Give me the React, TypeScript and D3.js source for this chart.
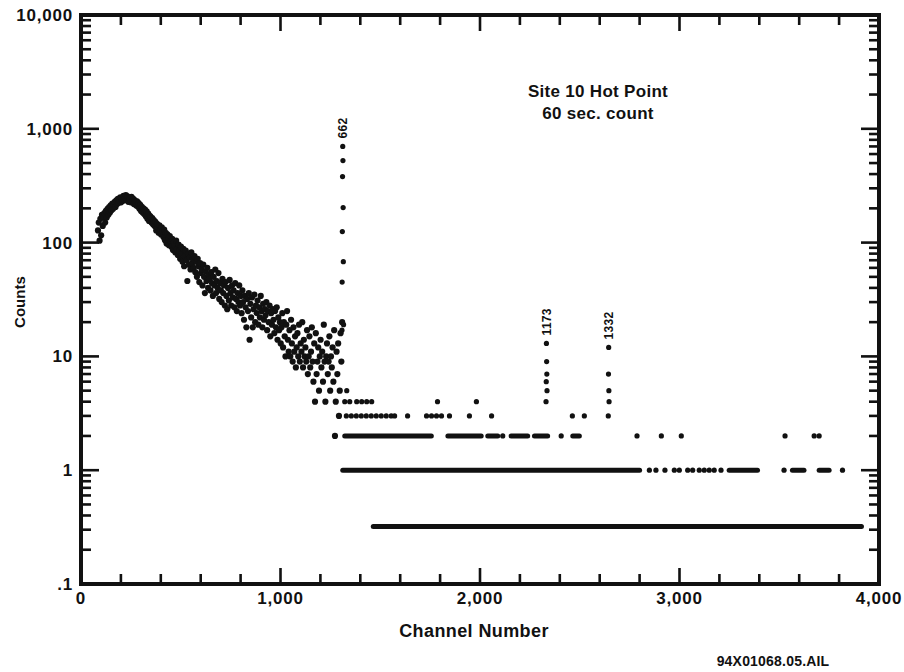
import React from "react";
import * as d3 from "d3";

// gamma spectrum, continuum part: every 4th channel from 85 on
const contStart = 85;
const contStep = 4;
const contCounts = [
  128, 150, 104, 162, 116, 175, 140, 168, 182, 150,
  190, 166, 198, 176, 205, 184, 212, 192, 220, 198,
  215, 228, 206, 235, 218, 242, 224, 232, 250, 226,
  245, 232, 258, 238, 250, 262, 236, 255, 228, 248,
  240, 226, 252, 232, 244, 218, 236, 225, 212, 230,
  208, 222, 198, 215, 190, 206, 184, 200, 178, 195,
  170, 188, 162, 180, 155, 172, 168, 150, 164, 145,
  158, 140, 152, 128, 146, 135, 122, 142, 130, 118,
  136, 125, 112, 130, 105, 122, 98, 118, 110, 95,
  114, 102, 92, 108, 86, 100, 95, 82, 104, 88,
  78, 96, 84, 72, 92, 80, 68, 88, 62, 76,
  85, 70, 46, 80, 64, 74, 58, 82, 66, 72,
  60, 76, 55, 68, 50, 72, 62, 45, 66, 54,
  58, 42, 64, 50, 36, 56, 46, 60, 40, 52,
  48, 38, 55, 44, 34, 50, 42, 58, 36, 46,
  40, 54, 32, 44, 38, 30, 48, 36, 42, 28,
  45, 34, 26, 40, 31, 47, 36, 28, 42, 33,
  38, 27, 44, 32, 25, 36, 30, 42, 28, 34,
  24, 38, 30, 21, 34, 27, 18, 32, 25, 36,
  14, 29, 22, 33, 18, 26, 35, 20, 28, 24,
  31, 19, 27, 22, 34, 25, 18, 29, 21, 26,
  23, 30, 17, 25, 20, 28, 15, 24, 19, 26,
  21, 16, 25, 18, 27, 14, 22, 17, 20, 13,
  18, 24, 12, 20, 15, 10, 19, 25, 14, 11,
  17, 10, 21, 13, 9, 18, 11, 15, 8, 12,
  16, 10, 19, 9, 13, 11, 20, 8, 14, 10,
  12, 9, 17, 7, 10, 15, 8, 11, 18, 9,
  6, 13, 4, 16, 7, 9, 12, 5, 10, 14,
  8, 11, 6, 19, 9, 4, 10, 13, 7, 9,
  15, 5, 10, 8, 12, 6, 17, 2, 4, 11,
  7, 13, 3, 5, 16, 9, 20,
];

// photopeaks
const peak662Channels = [1308, 1309, 1310, 1311, 1312, 1313, 1314, 1315, 1316];
const peak662Counts = [17, 45, 125, 380, 700, 526, 203, 68, 19];
const peak1173Channels = [2331, 2332, 2333, 2334, 2335, 2336];
const peak1173Counts = [4, 6, 13, 9, 7, 5];
const peak1332Channels = [2643, 2644, 2645, 2646, 2647];
const peak1332Counts = [3, 7, 12, 5, 4];

const peakNames = ["662", "1173", "1332"];
const peakChannels = [1312, 2333, 2645];
const peakTops = [700, 13, 12];

// single points above the 662 peak
const tailChannels = [
  1332,
  1322, 1347, 1382, 1407, 1432, 1457, 1787, 1982,
  1330, 1355, 1380, 1405, 1430, 1455, 1480, 1505, 1530, 1555, 1572, 1637, 1732,
  1757, 1782, 1807, 1847, 1947, 2058, 2463, 2523,
  2114, 2407, 2787, 2909, 3009, 3529, 3675, 3700,
  2849, 2882, 2927, 2974, 2999, 3041, 3066, 3099, 3124, 3149, 3174, 3208, 3524, 3817,
];
const tailCounts = [
  5,
  4, 4, 4, 4, 4, 4, 4, 4,
  3, 3, 3, 3, 3, 3, 3, 3, 3, 3, 3, 3, 3,
  3, 3, 3, 3, 3, 3, 3, 3,
  2, 2, 2, 2, 2, 2, 2, 2,
  1, 1, 1, 1, 1, 1, 1, 1, 1, 1, 1, 1, 1, 1,
];

// channels with the same count side by side merge into runs
const zeroLevel = 0.32; // empty channels are drawn at this floor
const runLevels = [2, 2, 2, 2, 2, 2, 1, 1, 1, 1, zeroLevel];
const runStarts = [1322, 1839, 2039, 2156, 2273, 2465, 1312, 3249, 3566, 3700, 1465];
const runEnds = [1756, 2006, 2089, 2239, 2339, 2498, 2800, 3391, 3624, 3750, 3912];

const yTickValues = [10000, 1000, 100, 10, 1, 0.1];
const yTickLabels = ["10,000", "1,000", "100", "10", "1", ".1"];
const xTickValues = [0, 1000, 2000, 3000, 4000];
const xTickLabels = ["0", "1,000", "2,000", "3,000", "4,000"];

const W = 904;
const H = 672;
const left = 81, right = 879, top = 15, bottom = 584;
const ink = "#111";
const font = "'Liberation Sans', Arial, sans-serif";

export default function App() {
  const x = d3.scaleLinear().domain([0, 4000]).range([left, right]);
  const y = d3.scaleLog().domain([0.1, 10000]).range([bottom, top]);

  const yTicks = y.ticks();
  const xTicks = x.ticks(20);
  const isDecade = (v: number) => Math.abs(Math.log10(v) - Math.round(Math.log10(v))) < 1e-6;

  const dot = (ch: number, c: number, k: string, r = 2.6) => (
    <circle key={k} cx={x(ch)} cy={y(c)} r={r} fill={ink} />
  );

  return (
    <svg width={W} height={H} style={{ position: "absolute", left: 0, top: 0, background: "#fff" }}
      fontFamily={font} fontWeight="bold" fill={ink}>
      <rect x={0} y={0} width={W} height={H} fill="#fff" />

      {/* ticks on all four sides, pointing in */}
      <g stroke={ink} strokeWidth={2.6}>
        {yTicks.map((t, i) => {
          const len = isDecade(t) ? 18 : 10;
          return (
            <g key={"yt" + i}>
              <line x1={left} x2={left + len} y1={y(t)} y2={y(t)} />
              <line x1={right} x2={right - len} y1={y(t)} y2={y(t)} />
            </g>
          );
        })}
        {xTicks.map((t, i) => {
          const len = t % 1000 === 0 ? 16 : 10;
          return (
            <g key={"xt" + i}>
              <line x1={x(t)} x2={x(t)} y1={bottom} y2={bottom - len} />
              <line x1={x(t)} x2={x(t)} y1={top} y2={top + len} />
            </g>
          );
        })}
      </g>
      <rect x={left} y={top} width={right - left} height={bottom - top}
        fill="none" stroke={ink} strokeWidth={4} />

      {yTickValues.map((v, i) => (
        <text key={"yl" + i} x={73} y={y(v) + 6} textAnchor="end" fontSize={17} letterSpacing={0.8}>
          {yTickLabels[i]}
        </text>
      ))}
      {xTickValues.map((v, i) => (
        <text key={"xl" + i} x={x(v)} y={604} textAnchor="middle" fontSize={17} letterSpacing={0.8}>
          {xTickLabels[i]}
        </text>
      ))}
      <text x={474} y={637} textAnchor="middle" fontSize={18} letterSpacing={0.4}>Channel Number</text>
      <text transform={`translate(25,${y(30)}) rotate(-90)`} textAnchor="middle" fontSize={15}>Counts</text>
      <text x={773} y={666} textAnchor="middle" fontSize={14} letterSpacing={0.2}>94X01068.05.AIL</text>

      <text x={598} y={97} textAnchor="middle" fontSize={17} letterSpacing={0.3}>Site 10 Hot Point</text>
      <text x={598} y={119} textAnchor="middle" fontSize={17} letterSpacing={0.3}>60 sec. count</text>

      {/* data */}
      <g stroke={ink} strokeWidth={5} strokeLinecap="round">
        {runLevels.map((lv, i) => (
          <line key={"run" + i} x1={x(runStarts[i])} x2={x(runEnds[i])} y1={y(lv)} y2={y(lv)} />
        ))}
      </g>
      <g>
        {contCounts.map((c, i) => dot(contStart + i * contStep, c, "c" + i, 3.1))}
        {peak662Counts.map((c, i) => dot(peak662Channels[i], c, "a" + i))}
        {peak1173Counts.map((c, i) => dot(peak1173Channels[i], c, "b" + i))}
        {peak1332Counts.map((c, i) => dot(peak1332Channels[i], c, "d" + i))}
        {tailCounts.map((c, i) => dot(tailChannels[i], c, "t" + i))}
      </g>

      {peakNames.map((p, i) => (
        <text key={"pk" + i} transform={`translate(${x(peakChannels[i])},${y(peakTops[i]) - 8}) rotate(-90)`}
          dy="0.35em" fontSize={12} letterSpacing={0.3}>
          {p}
        </text>
      ))}
    </svg>
  );
}
